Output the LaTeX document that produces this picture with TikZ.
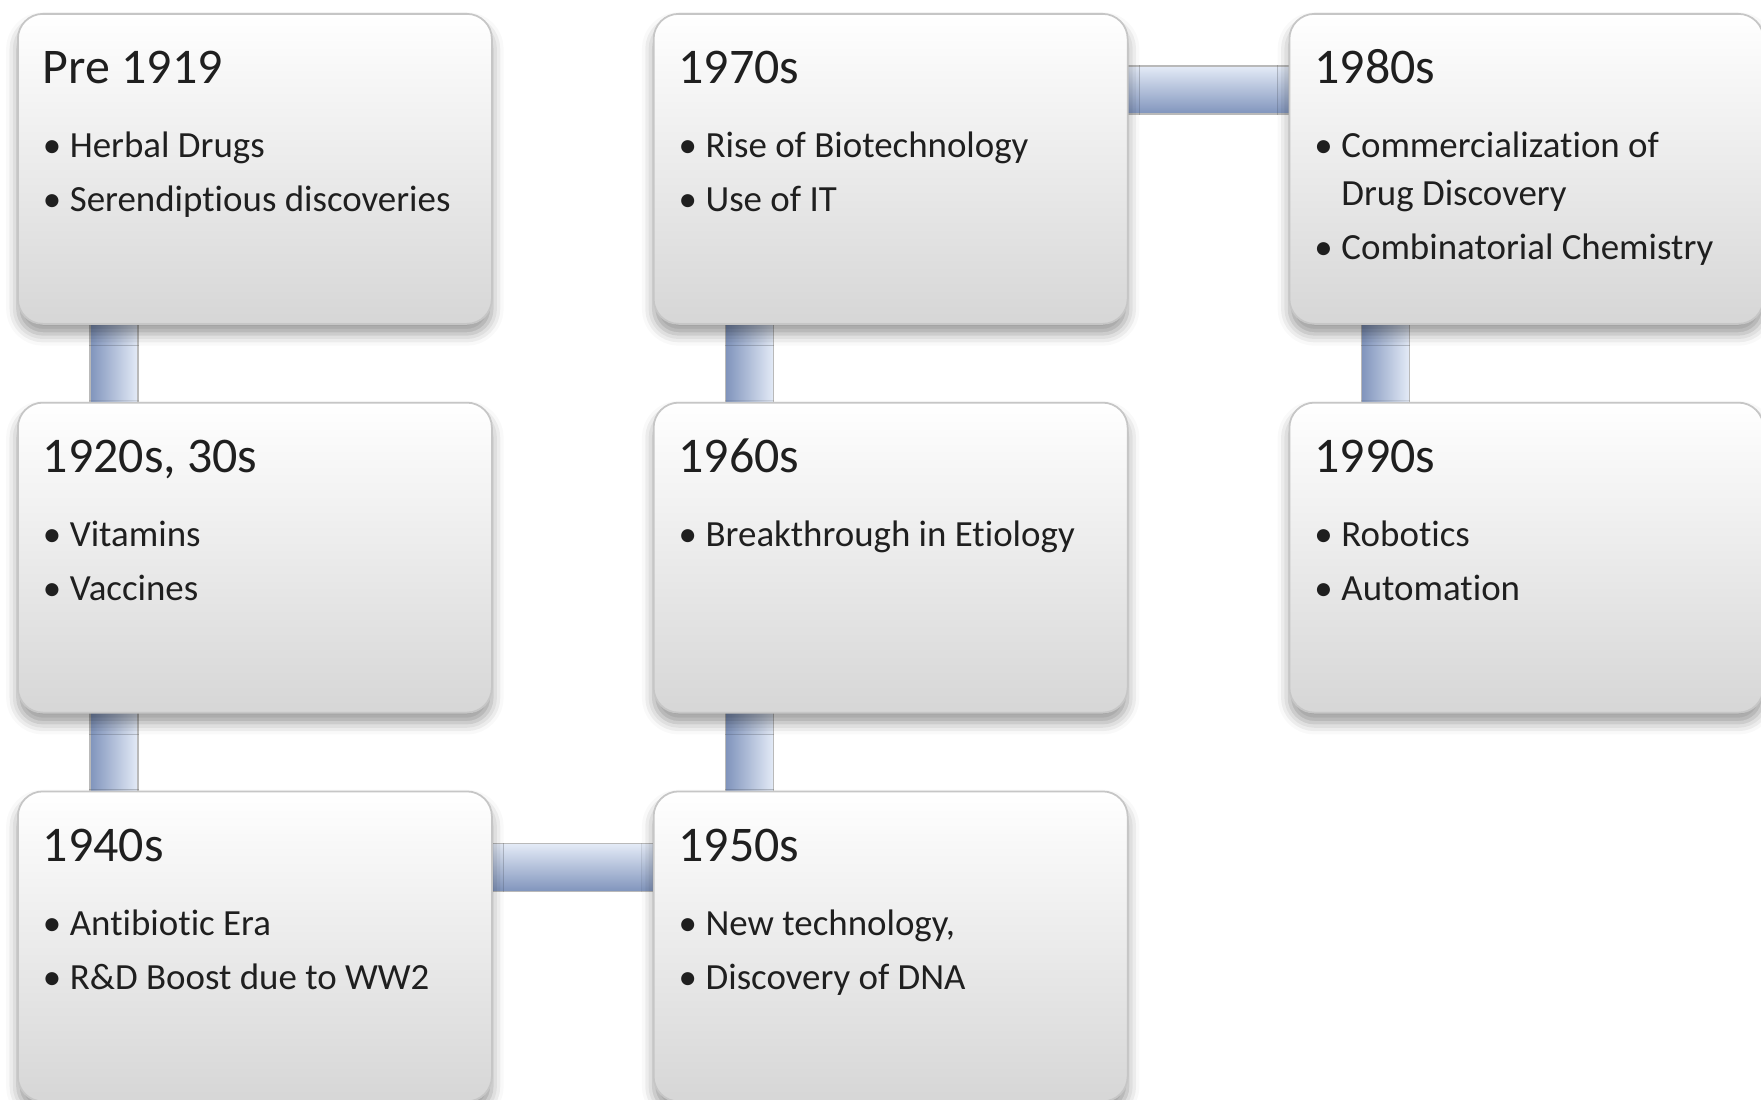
\documentclass[tikz,border=0pt]{standalone}
\usepackage{fontspec}
\setmainfont{Carlito}[Ligatures=NoCommon]
\usepackage{xcolor}
\usetikzlibrary{calc, positioning, backgrounds, shadows.blur}
\definecolor{bardark}{RGB}{128,148,188}
\definecolor{barmid}{RGB}{158,177,212}
\definecolor{barlight}{RGB}{228,235,247}
\tikzset{
  decade/.style={
    rectangle, rounded corners=0.25cm, inner sep=0pt,
    minimum width=4.74cm, minimum height=3.1cm,
    draw=gray!45, line width=0.5pt,
    top color=white, middle color=gray!7, bottom color=gray!32,
    text=black!88,
    blur shadow={shadow xshift=0pt, shadow yshift=-0.6ex, shadow blur radius=0.7ex, shadow opacity=40}
  },
  vbar/.style={draw=gray!55, line width=0.3pt, left color=bardark, middle color=barmid, right color=barlight},
  hbar/.style={draw=gray!55, line width=0.3pt, top color=barlight, middle color=barmid, bottom color=bardark}
}
\newcommand{\decadebox}[2]{\parbox[c][3.1cm][t]{4.74cm}{\leftskip=0.25cm\rightskip=0pt plus 1fil\parindent=0pt
  \rule{0pt}{0.70cm}{\fontsize{14.2}{17}\selectfont #1}\par
  \vspace{0.2cm}
  \fontsize{10.5}{13.6}\selectfont #2}}
\newcommand{\bul}[1]{\par\vspace{0.06cm}\hangindent=0.27cm\hangafter=1\noindent\makebox[0.27cm][l]{\textbullet}#1\par}

\begin{document}
\begin{tikzpicture}[
    node distance=0.77cm and 1.6cm
]
\useasboundingbox (0,0) rectangle (17.61,-11);

% First column
\node[decade, anchor=north west] (pre) at (0.17,-0.13) {\decadebox{Pre 1919}{\bul{Herbal Drugs}\bul{Serendiptious discoveries}}};
\node[decade, below=of pre] (twenties) {\decadebox{1920s, 30s}{\bul{Vitamins}\bul{Vaccines}}};
\node[decade, below=of twenties] (forties) {\decadebox{1940s}{\bul{Antibiotic Era}\bul{R\&D Boost due to WW2}}};

% Second column
\node[decade, right=of forties] (fifties) {\decadebox{1950s}{\bul{New technology,}\bul{Discovery of DNA}}};
\node[decade, above=of fifties] (sixties) {\decadebox{1960s}{\bul{Breakthrough in Etiology}}};
\node[decade, above=of sixties] (seventies) {\decadebox{1970s}{\bul{Rise of Biotechnology}\bul{Use of IT}}};

% Third column
\node[decade, right=of seventies] (eighties) {\decadebox{1980s}{\bul{Commercialization of\newline Drug Discovery}\bul{Combinatorial Chemistry}}};
\node[decade, below=of eighties] (nineties) {\decadebox{1990s}{\bul{Robotics}\bul{Automation}}};

% Connecting bars
\begin{scope}[on background layer]
\path[vbar] ($(pre.south west)+(0.73,0.1)$) rectangle ($(twenties.north west)+(1.21,-0.1)$);
\path[vbar] ($(twenties.south west)+(0.73,0.1)$) rectangle ($(forties.north west)+(1.21,-0.1)$);
\path[hbar] ($(forties.north east)+(-0.1,-0.53)$) rectangle ($(fifties.north west)+(0.1,-1.01)$);
\path[vbar] ($(sixties.south west)+(0.73,0.1)$) rectangle ($(fifties.north west)+(1.21,-0.1)$);
\path[vbar] ($(seventies.south west)+(0.73,0.1)$) rectangle ($(sixties.north west)+(1.21,-0.1)$);
\path[hbar] ($(seventies.north east)+(-0.1,-0.53)$) rectangle ($(eighties.north west)+(0.1,-1.01)$);
\path[vbar] ($(eighties.south west)+(0.73,0.1)$) rectangle ($(nineties.north west)+(1.21,-0.1)$);
\end{scope}

\end{tikzpicture}
\end{document}
